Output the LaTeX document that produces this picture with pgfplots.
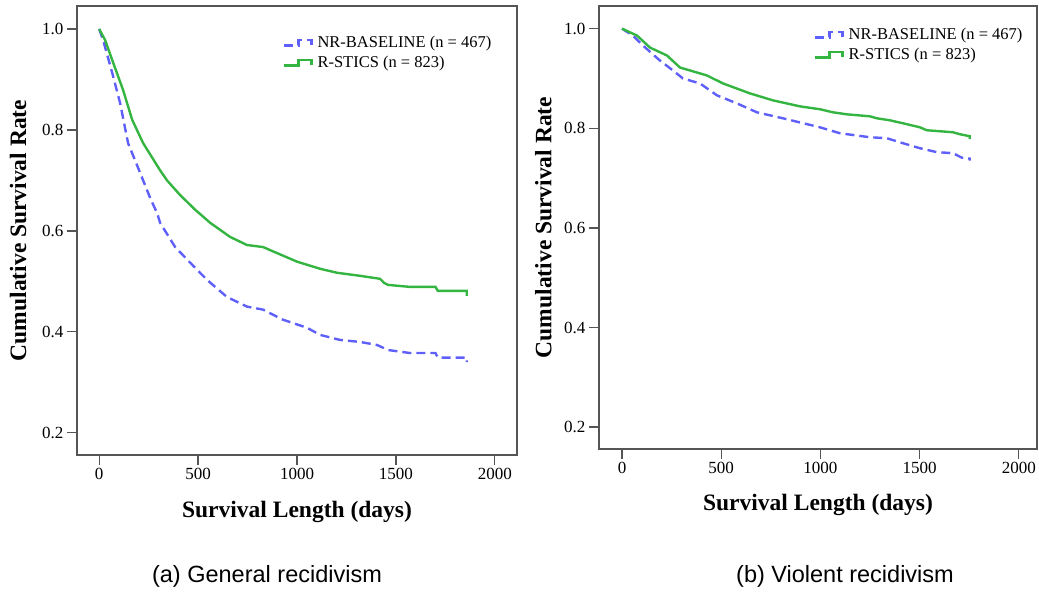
\documentclass[border=0pt]{standalone}
\usepackage{pgfplots}
\pgfplotsset{compat=1.18}
\usepackage{fontspec}
\setmainfont{Liberation Serif}
\newfontfamily\arialf{Liberation Sans}
\definecolor{kmblue}{RGB}{95,95,250}
\definecolor{kmgreen}{RGB}{52,180,64}
\definecolor{frame}{RGB}{85,85,85}
\pgfplotsset{
  km/.style={
    scale only axis,
    anchor=south west,
    xmin=-112, xmax=2112,
    ymin=0.156, ymax=1.0455,
    xtick={0,500,1000,1500,2000},
    ytick={0.2,0.4,0.6,0.8,1.0},
    tick align=outside,
    tick pos=left,
    major tick length=10pt,
    axis line style={draw=frame, line width=1.3pt},
    every tick/.style={draw=frame, line width=1.3pt},
    /pgf/number format/assume math mode=true,
    x tick label style={font=\fontsize{17}{19}\selectfont, /pgf/number format/1000 sep={}},
    y tick label style={font=\fontsize{17}{19}\selectfont, /pgf/number format/.cd, fixed, fixed zerofill, precision=1},
    xlabel={\textbf{Survival Length (days)}},
    ylabel={\textbf{Cumulative Survival Rate}},
    label style={font=\fontsize{23.5}{26}\selectfont},
    legend cell align=left,
    legend style={draw=none, fill=none, anchor=north west, inner sep=0pt,
      font=\fontsize{16.5}{18}\selectfont, row sep=3pt,
      /tikz/every odd column/.append style={column sep=3pt}},
    legend image code/.code={\draw[##1] (0pt,-3pt) -- (14pt,-3pt) -- (14pt,2.5pt) -- (27pt,2.5pt) -- (27pt,-2.5pt);},
    blueline/.style={kmblue, line width=2.4pt, dash pattern=on 9pt off 5pt},
    greenline/.style={kmgreen, line width=2.4pt},
  }
}
\begin{document}
\begin{tikzpicture}[x=1pt,y=1pt]
\path[use as bounding box] (0,0) rectangle (1039,593);
% ---------- (a) General recidivism ----------
\begin{axis}[km, at={(77pt,138pt)}, width=440pt, height=449pt,
  xlabel style={at={(axis description cs:0.5,-0.127)}, anchor=center},
  ylabel style={at={(axis description cs:-0.134,0.5)}, anchor=center},
  legend style={at={(axis description cs:0.468,0.938)}}]
\addplot[blueline] coordinates {(0,1.0)(20,0.978)(66,0.913)(106,0.853)(146,0.774)(207,0.715)(258,0.665)(293,0.635)(308,0.616)(384,0.568)(460,0.537)(545,0.503)(646,0.469)(747,0.45)(828,0.444)(929,0.424)(1051,0.408)(1116,0.394)(1217,0.384)(1318,0.380)(1404,0.374)(1460,0.364)(1571,0.358)(1700,0.358)(1712,0.349)(1858,0.349)(1858,0.34)};
\addlegendentry{NR-BASELINE (n = 467)}
\addplot[greenline] coordinates {(0,1.0)(30,0.978)(71,0.933)(121,0.879)(167,0.82)(222,0.774)(308,0.72)(343,0.70)(409,0.671)(485,0.642)(561,0.616)(662,0.588)(747,0.572)(828,0.568)(899,0.556)(1000,0.539)(1116,0.525)(1202,0.517)(1318,0.511)(1420,0.505)(1440,0.497)(1460,0.493)(1571,0.489)(1700,0.489)(1712,0.481)(1858,0.481)(1858,0.471)};
\addlegendentry{R-STICS (n = 823)}
\end{axis}
% ---------- (b) Violent recidivism ----------
\begin{axis}[km, at={(599pt,144pt)}, width=438pt, height=443pt,
  xmin=-116, xmax=2092,
  xlabel style={at={(axis description cs:0.5,-0.126)}, anchor=center},
  ylabel style={at={(axis description cs:-0.127,0.5)}, anchor=center},
  legend style={at={(axis description cs:0.491,0.955)}}]
\addplot[blueline] coordinates {(0,1.0)(55,0.986)(106,0.966)(191,0.936)(257,0.916)(307,0.9)(393,0.89)(479,0.866)(579,0.85)(680,0.832)(811,0.82)(997,0.802)(1098,0.79)(1249,0.782)(1335,0.78)(1416,0.77)(1501,0.76)(1587,0.752)(1668,0.75)(1713,0.741)(1753,0.739)(1753,0.735)};
\addlegendentry{NR-BASELINE (n = 467)}
\addplot[greenline] coordinates {(0,1.0)(76,0.986)(141,0.962)(227,0.946)(292,0.922)(428,0.906)(509,0.89)(645,0.87)(761,0.856)(897,0.844)(1000,0.838)(1063,0.832)(1133,0.828)(1249,0.824)(1285,0.82)(1350,0.816)(1416,0.81)(1501,0.802)(1536,0.796)(1668,0.792)(1703,0.788)(1753,0.784)(1753,0.778)};
\addlegendentry{R-STICS (n = 823)}
\end{axis}
% ---------- captions ----------
\node[font=\arialf\fontsize{23.5}{26}\selectfont, anchor=center] at (267,17) {(a) General recidivism};
\node[font=\arialf\fontsize{23.5}{26}\selectfont, anchor=center] at (845,17) {(b) Violent recidivism};
\end{tikzpicture}
\end{document}
